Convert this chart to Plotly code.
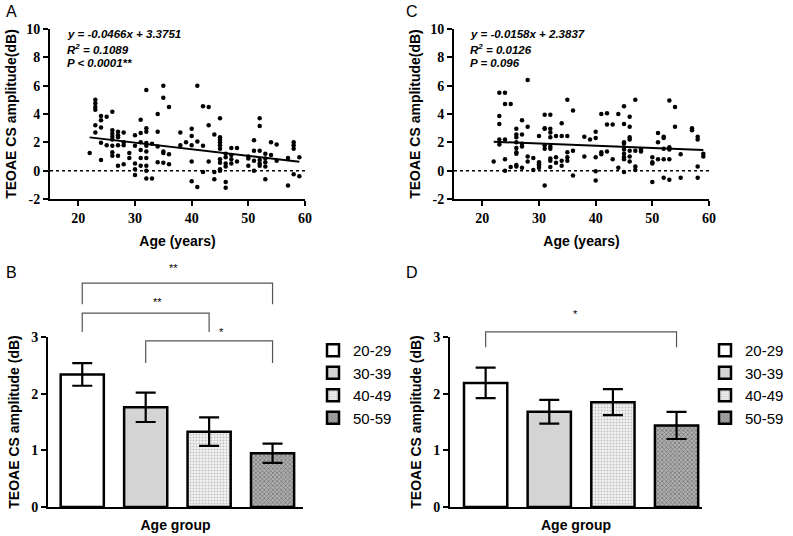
import plotly.graph_objects as go

# ---------------- data ----------------
# Panel A scatter (age, amplitude)
ageA = ([22] + [23]*6 + [24]*5 + [25]*2 + [26]*8 + [27]*6 + [28]*4 + [29]*2 + [30]*5 + [31]*6 +
        [32]*10 + [33]*2 + [34]*4 + [35]*5 + [36]*3 + [38]*2 + [39] + [40]*5 + [41]*3 + [42]*3 +
        [43]*3 + [44]*3 + [45]*10 + [46]*6 + [47]*4 + [48]*2 + [50]*3 + [51]*4 + [52]*6 + [53]*5 +
        [54]*2 + [55]*2 + [57]*2 + [58]*4 + [59]*2)
ampA = [1.25,
        5.0, 4.75, 4.5, 4.3, 3.2, 2.7,
        3.85, 3.55, 3.05, 1.97, 0.75,
        3.8, 1.8,
        4.15, 2.85, 2.6, 2.4, 2.2, 1.75, 1.3, 1.05,
        2.75, 2.5, 2.35, 1.8, 1.05, 0.35,
        2.7, 2.0, 1.8, 0.45,
        1.25, 0.9,
        2.5, 1.75, 0.5, 0.1, -0.3,
        3.6, 2.65, 2.0, 1.45, 0.9, 0.35,
        5.7, 3.0, 2.75, 1.95, 1.75, 1.35, 0.9, 0.35, 0.0, -0.55,
        1.9, -0.55,
        4.0, 2.75, 1.7, 0.6,
        6.0, 5.15, 1.35, 1.25, 0.55,
        4.5, 1.15, 0.45,
        2.7, 1.8,
        2.0,
        2.95, 2.45, 1.8, 0.65, -0.75,
        6.0, 2.05, -1.15,
        4.55, 1.75, -0.1,
        4.5, 3.2, 0.65,
        2.55, -0.1, -0.6,
        3.7, 2.35, 2.2, 2.0, 1.8, 1.55, 0.8, 0.55, 0.1, 0.0,
        1.2, 0.95, 0.5, 0.3, -0.8, -1.2,
        1.6, 1.1, 0.8, 0.5,
        1.6, 0.65,
        1.0, 0.85, 0.35,
        2.15, 1.4, 0.7, 0.0,
        3.7, 3.15, 1.4, 0.75, 0.5, 0.35,
        1.2, 0.85, 0.6, 0.3, -0.6,
        2.0, 1.1,
        1.85, 0.7,
        0.9, -1.05,
        2.0, 1.8, 1.55, -0.25,
        0.95, -0.4]

# Panel C scatter (age, amplitude)
ageC = ([22] + [23]*5 + [24]*5 + [25]*2 + [26]*9 + [27]*5 + [28]*4 + [29]*2 + [30]*5 + [31]*6 +
        [32]*9 + [33]*3 + [34]*4 + [35]*5 + [36]*3 + [38]*2 + [39] + [40]*5 + [41]*3 + [42]*3 +
        [43]*2 + [44]*2 + [45]*9 + [46]*7 + [47]*4 + [48]*2 + [50]*4 + [51]*3 + [52]*5 + [53]*5 +
        [54]*2 + [55]*2 + [57]*2 + [58]*4 + [59]*2)
ampC = [0.65,
        5.5, 3.85, 3.3, 2.2, 1.85,
        5.5, 4.7, 2.2, 0.8, 0.0,
        4.7, 0.25,
        2.95, 2.55, 2.35, 2.0, 1.6, 1.3, 1.2, 0.4, 0.3,
        3.55, 2.55, 1.9, 1.7, 0.2,
        6.4, 3.1, 1.0, 0.65,
        0.9, 0.05,
        2.45, 0.6, 0.45, 0.35, 0.2,
        3.95, 3.0, 2.95, 1.8, 1.55, -1.05,
        3.95, 2.95, 2.7, 2.35, 1.7, 1.55, 0.85, 0.7, 0.25,
        2.45, 0.95, 0.55,
        3.35, 2.45, 0.7, 0.35,
        5.0, 2.45, 1.3, 0.95, 0.7,
        4.25, 1.4, -0.35,
        2.4, 1.0,
        2.2,
        2.75, 2.3, 0.95, -0.05, -0.7,
        4.0, 1.3, 1.15,
        4.05, 3.25, 1.35,
        3.25, 0.8,
        4.0, 0.2,
        4.55, 3.3, 2.0, 1.9, 1.5, 1.2, 0.95, 0.8, -0.1,
        3.8, 3.1, 2.35, 2.2, 1.4, 1.0, 0.65,
        5.0, 1.4, 0.3, 0.05,
        1.5, 1.35,
        0.95, 0.6, 0.5, -0.8,
        2.65, 2.0, 0.8,
        2.4, 2.3, 1.55, 0.8, -0.5,
        4.95, 1.65, 1.5, 0.8, -0.65,
        4.5, 3.1,
        1.15, -0.5,
        3.0, 2.85,
        2.4, 2.2, 0.3, -0.5,
        1.2, 1.0]

# Regression lines (read endpoints)
fit_x = [22, 59]
fitA_y = [2.35, 0.63]
fitC_y = [2.04, 1.45]

eqA = ["y = -0.0466x + 3.3751", "R<sup>2</sup> = 0.1089", "P < 0.0001**"]
eqC = ["y = -0.0158x + 2.3837", "R<sup>2</sup> = 0.0126", "P = 0.096"]

sc_xticks = [20, 30, 40, 50, 60]
sc_yticks = [-2, 0, 2, 4, 6, 8, 10]
bar_yticks = [0, 1, 2, 3]

# Bar panels
groups = ["20-29", "30-39", "40-49", "50-59"]
meanB = [2.34, 1.76, 1.33, 0.95]
semB = [0.20, 0.26, 0.25, 0.17]
meanD = [2.19, 1.68, 1.85, 1.44]
semD = [0.27, 0.21, 0.23, 0.24]

# significance brackets: (left idx, right idx, bracket height, leg bottom, label, label x idx, label y)
bracketsB = [(0, 3, 3.95, 3.58, "**", 1.33, 4.22),
             (0, 2, 3.42, 3.09, "**", 1.09, 3.62),
             (1, 3, 2.93, 2.54, "*", 2.12, 3.08)]
bracketsD = [(0, 3, 3.09, 2.82, "*", 1.48, 3.40)]

# ---------------- layout geometry ----------------
W, H = 793, 536
def fx(px): return px / W
def fy(py): return 1 - py / H

domA_x = [fx(50), fx(305)]
domC_x = [fx(454), fx(709)]
dom_top_y = [fy(199), fy(29)]
domB_x = [fx(48), fx(303)]
domD_x = [fx(450), fx(702)]
dom_bot_y = [fy(507), fy(337)]

sc_xrange = [15, 60]
sc_yrange = [-2, 10]
barB_xrange = [-0.54, 3.48]
barD_xrange = [-0.56, 3.40]
bar_yrange = [0, 3]

styles = [
    dict(color="white", pattern=None),
    dict(color="#d4d4d4", pattern=None),
    dict(color="white", pattern=dict(shape=".", fgcolor="#8a8a8a", bgcolor="#f4f4f4", size=3, solidity=0.35)),
    dict(color="#9a9a9a", pattern=dict(shape="x", fgcolor="#3a3a3a", bgcolor="#b0b0b0", size=3, solidity=0.45)),
]

fig = go.Figure()

tickfont = dict(family="Liberation Serif", size=14, color="black")
titlefont = dict(family="Liberation Sans", size=14, color="black")

def add_scatter(ages, amps, fy_, xa, ya):
    fig.add_trace(go.Scatter(x=sc_xrange, y=[0, 0], mode="lines",
                             line=dict(color="black", width=1.5, dash="dot"),
                             xaxis=xa, yaxis=ya, showlegend=False, hoverinfo="skip"))
    fig.add_trace(go.Scatter(x=ages, y=amps, mode="markers",
                             marker=dict(color="black", size=4.5),
                             xaxis=xa, yaxis=ya, showlegend=False))
    fig.add_trace(go.Scatter(x=fit_x, y=fy_, mode="lines",
                             line=dict(color="black", width=2),
                             xaxis=xa, yaxis=ya, showlegend=False))

add_scatter(ageA, ampA, fitA_y, "x", "y")
add_scatter(ageC, ampC, fitC_y, "x2", "y2")

def add_bars(means, sems, xa, ya, legend):
    for i, g in enumerate(groups):
        st = styles[i]
        marker = dict(color=st["color"], line=dict(color="black", width=2.5))
        if st["pattern"]:
            marker["pattern"] = st["pattern"]
        fig.add_trace(go.Bar(x=[i], y=[means[i]], name=g, width=0.68,
                             marker=marker,
                             error_y=dict(type="data", array=[sems[i]], visible=True,
                                          color="black", thickness=2.2, width=10),
                             xaxis=xa, yaxis=ya, legend=legend, legendgroup=g + legend,
                             showlegend=True))

add_bars(meanB, semB, "x3", "y3", "legend")
add_bars(meanD, semD, "x4", "y4", "legend2")

def axis_common():
    return dict(showgrid=False, zeroline=False, showline=True, linecolor="black", linewidth=2,
                ticks="outside", tickwidth=2, ticklen=5, tickcolor="black",
                tickfont=tickfont, automargin=False)

def bold(vals):
    return ["<b>%d</b>" % v for v in vals]

layout = dict(width=W, height=H, margin=dict(l=0, r=0, t=0, b=0, autoexpand=False),
              paper_bgcolor="white", plot_bgcolor="white", barmode="overlay",
              font=dict(family="Liberation Sans", color="black"))

for ax_x, ax_y, xid, yid, dx in [("xaxis", "yaxis", "x", "y", domA_x),
                                 ("xaxis2", "yaxis2", "x2", "y2", domC_x)]:
    layout[ax_x] = dict(axis_common(), domain=dx, range=sc_xrange, anchor=yid,
                        tickvals=sc_xticks, ticktext=bold(sc_xticks),
                        title=dict(text="<b>Age (years)</b>", font=titlefont, standoff=11))
    layout[ax_y] = dict(axis_common(), domain=dom_top_y, range=sc_yrange, anchor=xid,
                        tickvals=sc_yticks, ticktext=bold(sc_yticks),
                        title=dict(text="<b>TEOAE CS amplitude(dB)</b>", font=titlefont, standoff=6))

for ax_x, ax_y, xid, yid, dx, rng in [("xaxis3", "yaxis3", "x3", "y3", domB_x, barB_xrange),
                                      ("xaxis4", "yaxis4", "x4", "y4", domD_x, barD_xrange)]:
    layout[ax_x] = dict(axis_common(), domain=dx, range=rng, anchor=yid, ticks="",
                        showticklabels=False,
                        title=dict(text="<b>Age group</b>", font=titlefont, standoff=12))
    layout[ax_y] = dict(axis_common(), domain=dom_bot_y, range=bar_yrange, anchor=xid,
                        tickvals=bar_yticks, ticktext=bold(bar_yticks),
                        title=dict(text="<b>TEOAE CS amplitude (dB)</b>", font=titlefont, standoff=8))

legend_style = dict(font=dict(family="Liberation Sans", size=15, color="black"),
                    bgcolor="rgba(0,0,0,0)", tracegroupgap=5, itemwidth=30,
                    xanchor="left", yanchor="top", traceorder="normal")
layout["legend"] = dict(legend_style, x=fx(313), y=fy(334))
layout["legend2"] = dict(legend_style, x=fx(705), y=fy(334))

fig.update_layout(**layout)

# significance brackets (data -> paper)
def to_px(dom, rng, v):
    return dom[0] + (v - rng[0]) / (rng[1] - rng[0]) * (dom[1] - dom[0])

def draw_brackets(brs, domx, xr):
    for (i0, i1, yh, yl, lab, lx, ly) in brs:
        x0 = to_px(domx, xr, i0); x1 = to_px(domx, xr, i1)
        yh_p = to_px(dom_bot_y, bar_yrange, yh); yl_p = to_px(dom_bot_y, bar_yrange, yl)
        path = f"M{x0},{yl_p} L{x0},{yh_p} L{x1},{yh_p} L{x1},{yl_p}"
        fig.add_shape(type="path", path=path, xref="paper", yref="paper",
                      line=dict(color="#555555", width=1.2))
        fig.add_annotation(x=to_px(domx, xr, lx), y=to_px(dom_bot_y, bar_yrange, ly),
                           xref="paper", yref="paper", text=lab, showarrow=False,
                           font=dict(family="Liberation Sans", size=11, color="black"))

draw_brackets(bracketsB, domB_x, barB_xrange)
draw_brackets(bracketsD, domD_x, barD_xrange)

# equation text
for lines, x0 in [(eqA, 65), (eqC, 468)]:
    for k, t in enumerate(lines):
        fig.add_annotation(x=fx(x0), y=fy(34 + k * 14.5), xref="paper", yref="paper",
                           xanchor="left", yanchor="middle", showarrow=False,
                           text="<b><i>" + t + "</i></b>",
                           font=dict(family="Liberation Sans", size=11.5, color="black"))

# panel letters
for lab, x0, y0 in [("A", 4, 12), ("C", 404, 12), ("B", 4, 272), ("D", 404, 272)]:
    fig.add_annotation(x=fx(x0), y=fy(y0), xref="paper", yref="paper", xanchor="left",
                       yanchor="middle", showarrow=False, text=lab,
                       font=dict(family="Liberation Sans", size=16, color="black"))

fig.write_html("out.html", config={"displayModeBar": False},
               post_script="document.body.style.margin='0';document.body.style.overflow='hidden';")
